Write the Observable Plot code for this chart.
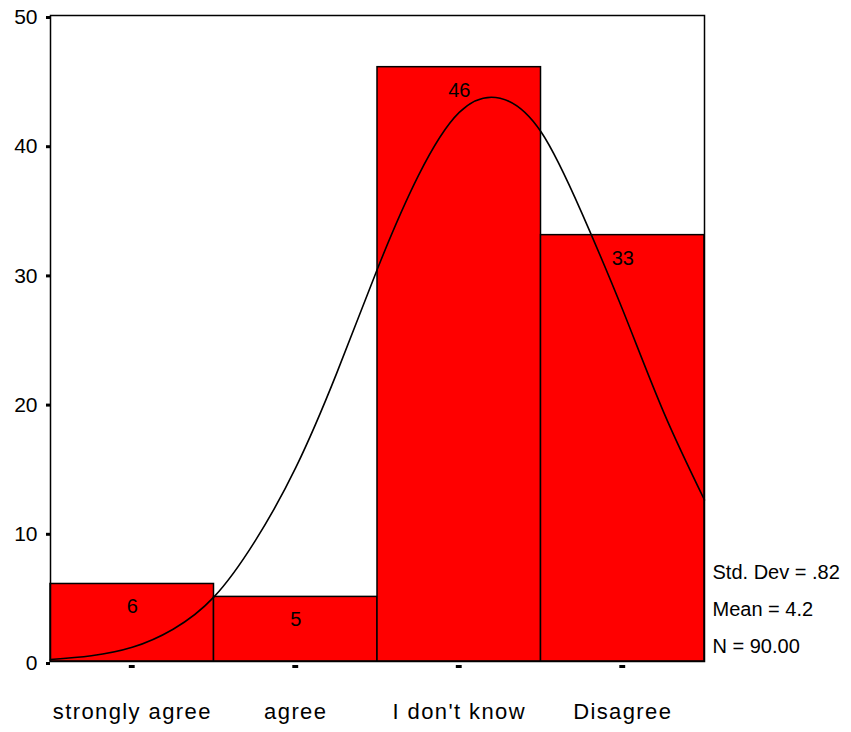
<!DOCTYPE html>
<html>
<head>
<meta charset="utf-8">
<script src="https://cdn.jsdelivr.net/npm/d3@7"></script>
<script src="https://cdn.jsdelivr.net/npm/@observablehq/plot@0.6"></script>
<style>
  body { margin: 0; background: #fff; }
</style>
</head>
<body>
<div id="chart"></div>
<script>
// Categories and their codes
const categories = ["strongly agree", "agree", "I don't know", "Disagree"];
const codes = [2, 3, 4, 5];
const counts = [6, 5, 46, 33];

// Y tick values
const yTicks = [0, 10, 20, 30, 40, 50];

// Fitted normal curve
const curveX = [1.5, 1.75, 2.0, 2.25, 2.5, 2.75, 3.0, 3.25, 3.5, 3.75, 4.0, 4.25, 4.5, 4.75, 5.0, 5.25, 5.5];
const curveY = [0.15, 0.45, 1.1, 2.5, 5.0, 9.3, 15.0, 22.3, 30.4, 37.6, 42.5, 43.6, 41.0, 34.7, 27.2, 19.3, 12.5];

// Summary statistics
const statLines = ["Std. Dev = .82", "Mean = 4.2", "N = 90.00"];

const bars = codes.map((c, i) => ({code: c, label: categories[i], count: counts[i]}));
const curve = curveX.map((x, i) => ({x, y: curveY[i]}));

const chart = Plot.plot({
  width: 851,
  height: 732,
  marginLeft: 50,
  marginRight: 147,
  marginTop: 15,
  marginBottom: 71,
  style: {fontFamily: "'Liberation Sans', Arial, sans-serif", fontSize: "20px", color: "#000", background: "#fff"},
  x: {domain: [1.5, 5.5]},
  y: {domain: [0, 50]},
  marks: [
    Plot.rect(bars, {x1: d => d.code - 0.5, x2: d => d.code + 0.5, y1: 0, y2: "count", fill: "#ff0000", stroke: "#000", strokeWidth: 1.5}),
    Plot.text(bars, {x: "code", y: "count", text: d => String(d.count), dy: 23, fontSize: 20, fill: "#000"}),
    Plot.line(curve, {x: "x", y: "y", curve: "natural", stroke: "#000", strokeWidth: 1.6}),
    Plot.frame({stroke: "#000", strokeWidth: 1.5}),
    Plot.axisY(yTicks, {tickSize: 4, strokeWidth: 3, tickPadding: 9, fontSize: 21, dy: 2, label: null}),
    Plot.axisX(codes, {tickSize: 0, tickPadding: 42, fontSize: 22, label: null, tickFormat: d => categories[codes.indexOf(d)]}),
    Plot.ruleY(codes, {y: () => 0, x1: d => d - 0.018, x2: d => d + 0.018, dy: 5, stroke: "#000", strokeWidth: 3}),
    Plot.text([statLines.join("\n")], {frameAnchor: "bottom-right", textAnchor: "start", lineAnchor: "bottom", dx: 8, dy: -9, lineHeight: 1.85, fontSize: 20, fill: "#000"})
  ]
});

chart.querySelectorAll('[aria-label="x-axis tick label"] text').forEach(t => {
  t.style.letterSpacing = "1.4px";
});

document.getElementById("chart").appendChild(chart);
</script>
</body>
</html>
